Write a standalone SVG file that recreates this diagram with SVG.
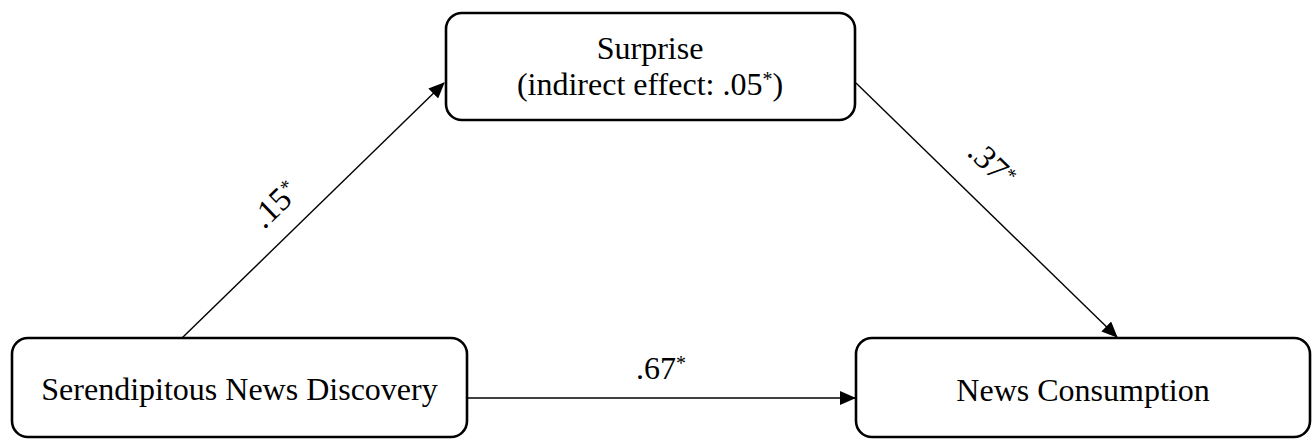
<svg xmlns="http://www.w3.org/2000/svg" width="1312" height="439" viewBox="0 0 1312 439">
  <style>
    .box { fill: #ffffff; stroke: #000000; stroke-width: 2.6; }
    .lbl { font-family: "Liberation Serif", "Times New Roman", serif; font-size: 32px; fill: #000000; }
    .slant { font-size: 33px; }
    .sup { font-size: 20px; }
    .edge { stroke: #000000; stroke-width: 1.4; fill: none; marker-end: url(#arrow); }
  </style>
  <defs>
    <marker id="arrow" viewBox="0 0 16 14" refX="15" refY="7" markerWidth="16" markerHeight="14" markerUnits="userSpaceOnUse" orient="auto">
      <path d="M0,0 L16,7 L0,14 Z" fill="#000000"/>
    </marker>
  </defs>

  <!-- connectors -->
  <g id="connectors">
    <line class="edge" x1="182" y1="338" x2="444" y2="83"/>
    <line class="edge" x1="856" y1="83" x2="1117" y2="337"/>
    <line class="edge" x1="467" y1="398" x2="855" y2="398"/>
    <text class="lbl slant" transform="translate(264,230) rotate(-44)">.15<tspan class="sup" dy="-9">*</tspan></text>
    <text class="lbl slant" transform="translate(966,154) rotate(44)">.37<tspan class="sup" dy="-9">*</tspan></text>
    <text class="lbl" x="661" y="379" text-anchor="middle">.67<tspan class="sup" dy="-9">*</tspan></text>
  </g>

  <!-- mediator -->
  <g id="surprise">
    <rect class="box" x="446" y="13" width="409" height="107" rx="16" ry="16"/>
    <text class="lbl" x="650" y="59" text-anchor="middle">Surprise</text>
    <text class="lbl" x="650" y="95" text-anchor="middle">(indirect effect: .05<tspan class="sup" dy="-9">*</tspan><tspan dy="9">)</tspan></text>
  </g>

  <!-- predictor -->
  <g id="discovery">
    <rect class="box" x="12" y="338" width="455" height="99" rx="16" ry="16"/>
    <text class="lbl" x="239.5" y="400" text-anchor="middle">Serendipitous News Discovery</text>
  </g>

  <!-- outcome -->
  <g id="consumption">
    <rect class="box" x="856" y="338" width="454" height="99" rx="16" ry="16"/>
    <text class="lbl" x="1083" y="401" text-anchor="middle">News Consumption</text>
  </g>
</svg>
